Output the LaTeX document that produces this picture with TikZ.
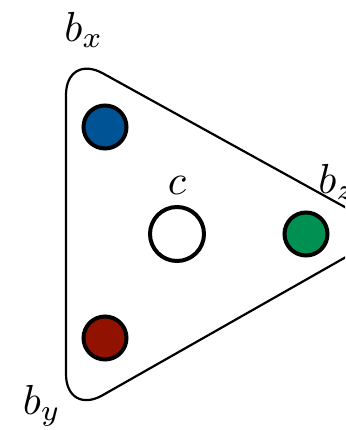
\documentclass[tikz,border=0pt]{standalone}
\usepackage{tikz}
\usetikzlibrary{positioning}
\definecolor{myblue}{RGB}{0, 84, 150}
\definecolor{myred}{RGB}{145, 18, 0}
\definecolor{mygreen}{RGB}{0, 145, 82}
\begin{document}
\begin{tikzpicture}[
    x=1pt, y=-1pt,
    tri_style/.style={line width=2.2pt, rounded corners=42pt},
    dot_style/.style={circle, draw=black, line width=4pt,
      minimum size=43pt, inner sep=0pt},
    center_style/.style={dot_style, fill=white, minimum size=54pt},
    label_style/.style={scale=4.2, inner sep=0.5pt}
]
    \useasboundingbox (0,0) rectangle (345,430);
    \clip (0,0) rectangle (345,430);

    % --- Triangle ---
    \coordinate (tl) at (66,53);
    \coordinate (rt) at (390,232);
    \coordinate (bl) at (66,416);
    \draw[tri_style] (tl) -- (rt) -- (bl) -- cycle;

    % --- Points ---
    \node[dot_style, fill=myblue] (px) at (105,127) {};
    \node[dot_style, fill=myred] (py) at (105,338) {};
    \node[dot_style, fill=mygreen] (pz) at (306,234) {};
    \node[center_style] (pc) at (177,234) {};

    % --- Labels ---
    \node[label_style] (lx) at (84,30) {$b_x$};
    \node[label_style] (ly) at (42,406) {$b_y$};
    \node[label_style] (lz) at (337,182) {$b_z$};
    \node[label_style, above=8pt of pc] (lc) {$c$};
\end{tikzpicture}
\end{document}
